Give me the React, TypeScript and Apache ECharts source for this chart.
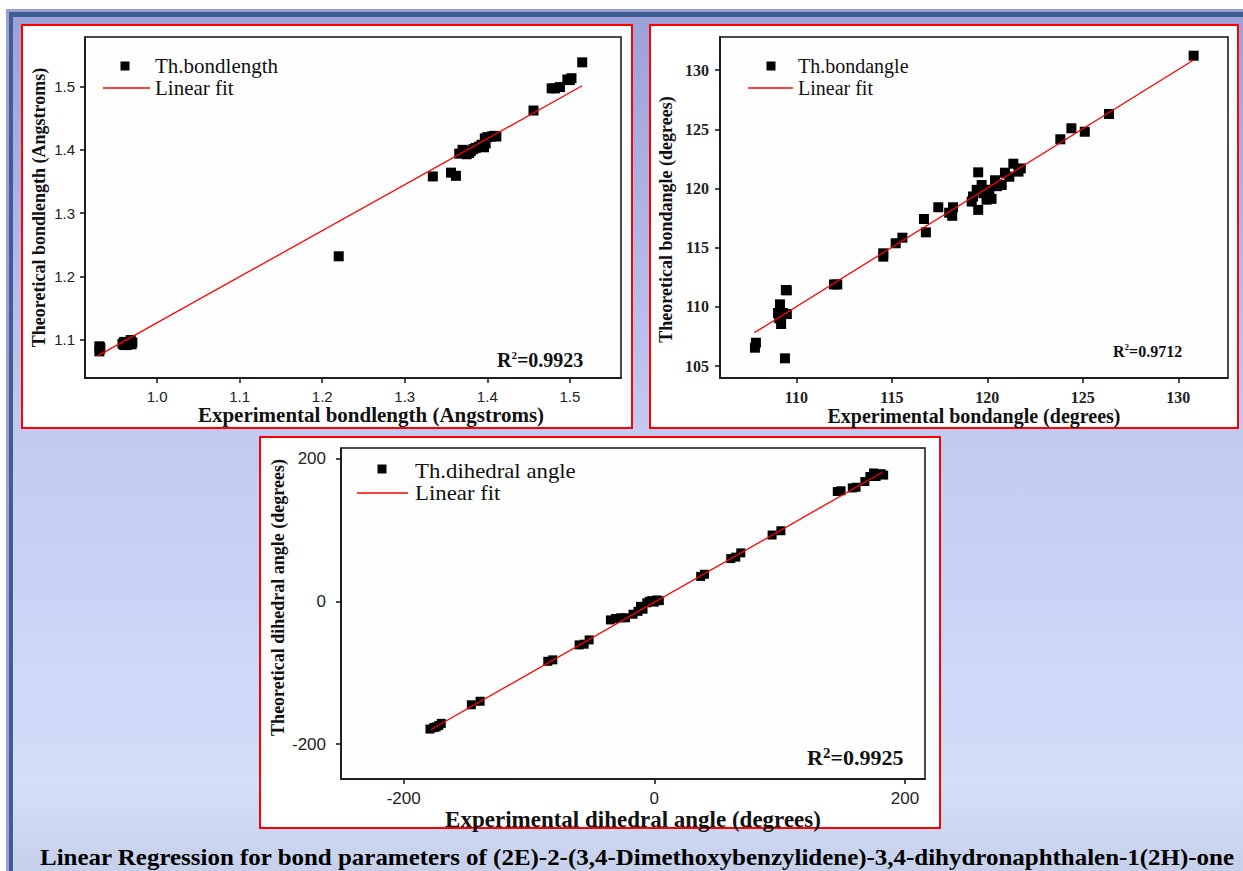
import React, { useEffect, useRef } from 'react';
import * as echarts from 'echarts';

// ---------- Panel 1: bond lengths ----------
const bondExp = [0.930, 0.931, 0.930, 0.931, 0.958, 0.960, 0.963, 0.968, 0.970, 0.969, 0.960,
  1.220, 1.334, 1.356, 1.362, 1.366, 1.370, 1.372, 1.375, 1.378, 1.380, 1.383,
  1.386, 1.390, 1.393, 1.396, 1.398, 1.397, 1.400, 1.405, 1.408, 1.411,
  1.456, 1.478, 1.482, 1.488, 1.497, 1.502, 1.500, 1.515];
const bondTheo = [1.090, 1.086, 1.082, 1.088, 1.094, 1.097, 1.092, 1.100, 1.096, 1.093, 1.092,
  1.232, 1.358, 1.364, 1.359, 1.394, 1.400, 1.397, 1.393, 1.395, 1.398, 1.401,
  1.403, 1.405, 1.408, 1.404, 1.410, 1.418, 1.420, 1.421, 1.422, 1.421,
  1.462, 1.497, 1.497, 1.499, 1.511, 1.513, 1.510, 1.538];
const bondFitX = [0.928, 1.515];
const bondFitY = [1.075, 1.501];
const bondXTicks = [1.0, 1.1, 1.2, 1.3, 1.4, 1.5];
const bondYTicks = [1.1, 1.2, 1.3, 1.4, 1.5];

// ---------- Panel 2: bond angles ----------
const angExp = [107.83, 107.88, 109.40, 109.45, 109.50, 109.14, 109.04, 109.30, 109.50, 109.20, 109.10,
  111.97, 112.14, 114.55, 114.55, 115.20, 115.55, 116.68, 116.78, 117.43, 118.00, 118.16, 118.20,
  119.52, 119.52, 119.25, 119.18, 119.44, 119.70, 119.79, 119.96, 120.22, 120.40, 120.75, 120.92,
  121.15, 121.36, 120.10, 120.50, 121.63, 121.75,
  123.82, 124.40, 125.10, 126.37, 130.80];
const angTheo = [106.56, 106.98, 105.66, 111.43, 111.40, 110.22, 109.49, 109.49, 109.40, 108.56, 109.04,
  111.90, 111.90, 114.25, 114.53, 115.38, 115.85, 117.43, 116.30, 118.42, 117.96, 117.70, 118.42,
  121.37, 118.20, 119.33, 118.90, 119.89, 120.30, 119.60, 119.06, 119.13, 120.70, 120.30, 121.34,
  121.00, 122.10, 119.90, 120.20, 121.43, 121.70,
  124.16, 125.09, 124.80, 126.30, 131.22];
const angFitX = [107.8, 130.8];
const angFitY = [107.83, 130.86];
const angXTicks = [110, 115, 120, 125, 130];
const angYTicks = [105, 110, 115, 120, 125, 130];

// ---------- Panel 3: dihedral angles ----------
const dihExp = [-179, -176, -174, -172, -170, -146, -139, -85, -81, -60, -56, -52,
  -35, -31, -27, -23, -17, -13, -11, -9, -6, -4, -2, 0, 2, 4,
  37, 40, 61, 65, 69, 94, 101, 146, 149, 158, 161, 168, 172, 175, 178, 181, 183, 177];
const dihTheo = [-179, -177, -176, -174, -171, -145, -140, -84, -82, -61, -60, -54,
  -26, -24, -23, -23, -18, -14, -7, -11, -2, 0, 1, -1, 2, 1,
  35, 38, 60, 62, 68, 93, 99, 154, 155, 159, 160, 168, 175, 180, 178, 179, 177, 175];
const dihFitX = [-178.5, 182];
const dihFitY = [-180, 181];
const dihXTicks = [-200, 0, 200];
const dihYTicks = [-200, 0, 200];

const TITLE = 'Linear Regression for bond parameters of (2E)-2-(3,4-Dimethoxybenzylidene)-3,4-dihydronaphthalen-1(2H)-one';

const SERIF = '"Liberation Serif", "Times New Roman", serif';
const SANS = '"Liberation Sans", Arial, sans-serif';
const INK = '#111';

function pairs(xs: number[], ys: number[]) {
  return xs.map((x, i) => [x, ys[i]]);
}

function axis(opts: any) {
  const { gridIndex, min, max, ticks, fmt, name, nameGap, nameSize, namePad, labelFont, labelSize, labelWeight, margin } = opts;
  return {
    type: 'value',
    gridIndex,
    min,
    max,
    name,
    nameLocation: 'middle',
    nameGap,
    nameTextStyle: { fontFamily: SERIF, fontWeight: 'bold', fontSize: nameSize, color: INK, padding: namePad || 0 },
    axisLine: { show: true, onZero: false, lineStyle: { color: INK, width: 1.5 } },
    axisTick: { show: true, inside: false, length: 5, customValues: ticks, lineStyle: { color: INK, width: 1.5 } },
    axisLabel: {
      customValues: ticks,
      formatter: fmt,
      fontFamily: labelFont,
      fontSize: labelSize,
      fontWeight: labelWeight,
      color: '#222',
      margin,
    },
    splitLine: { show: false },
  };
}

function r2Text(x: number, y: number, value: string, size: number, supSize: number) {
  return {
    type: 'text',
    x,
    y,
    z: 100,
    style: {
      text: '{r|R}{s|2}{r|=' + value + '}',
      verticalAlign: 'middle',
      rich: {
        r: { fontFamily: SERIF, fontWeight: 'bold', fontSize: size, fill: INK, lineHeight: size + 2 },
        s: { fontFamily: SERIF, fontWeight: 'bold', fontSize: supSize, fill: INK, verticalAlign: 'top', lineHeight: supSize },
      },
    },
  };
}

function legendG(sqX: number, sqY: number, x1: number, x2: number, lineY: number, textX: number, textY1: number, name: string, size: number, sx: number) {
  return [
    { type: 'rect', z: 100, shape: { x: sqX - 4.5, y: sqY - 4.5, width: 9, height: 9 }, style: { fill: '#000' } },
    { type: 'line', z: 100, shape: { x1, y1: lineY, x2, y2: lineY }, style: { stroke: '#ff0000', lineWidth: 1.3 } },
    { type: 'text', z: 100, x: textX, y: textY1, scaleX: sx, style: { text: name, fontFamily: SERIF, fontSize: size, fill: INK, verticalAlign: 'middle' } },
    { type: 'text', z: 100, x: textX, y: lineY, scaleX: sx, style: { text: 'Linear fit', fontFamily: SERIF, fontSize: size, fill: INK, verticalAlign: 'middle' } },
  ];
}

export default function App() {
  const ref = useRef<HTMLDivElement>(null);
  useEffect(() => {
    if (!ref.current) return;
    const chart = echarts.init(ref.current, null, { renderer: 'svg' });
    const f1 = (v: number) => v.toFixed(1);
    const f0 = (v: number) => String(Math.round(v));
    const gridStyle = { show: true, backgroundColor: '#fefefe', borderColor: INK, borderWidth: 1.5 };
    const scatterStyle = { color: '#000', opacity: 1 };

    const option: any = {
      animation: false,
      graphic: [
        { type: 'rect', z: -20, shape: { x: 6, y: 9, width: 1237, height: 862 }, style: { fill: '#9a9fd6' } },
        {
          type: 'rect', z: -19, shape: { x: 13, y: 17, width: 1230, height: 854 },
          style: {
            fill: {
              type: 'linear', x: 0, y: 0, x2: 0, y2: 1,
              colorStops: [
                { offset: 0, color: '#9ca2d8' },
                { offset: 0.5, color: '#c3cbf2' },
                { offset: 0.9, color: '#d3defa' },
                { offset: 1, color: '#c6d0ea' },
              ],
            },
          },
        },
        { type: 'rect', z: -18, shape: { x: 9, y: 12, width: 1234, height: 5 }, style: { fill: '#3d5f91' } },
        { type: 'rect', z: -18, shape: { x: 9, y: 12, width: 4, height: 859 }, style: { fill: '#3d5f91' } },
        { type: 'rect', z: -10, shape: { x: 22, y: 25, width: 610, height: 403 }, style: { fill: '#ffffff', stroke: '#ff0000', lineWidth: 2 } },
        { type: 'rect', z: -10, shape: { x: 650, y: 25, width: 588, height: 403 }, style: { fill: '#ffffff', stroke: '#ff0000', lineWidth: 2 } },
        { type: 'rect', z: -10, shape: { x: 260, y: 437, width: 680, height: 391 }, style: { fill: '#ffffff', stroke: '#ff0000', lineWidth: 2 } },
        ...legendG(125, 66, 103, 150, 88, 155, 66, 'Th.bondlength', 20, 1.05),
        ...legendG(771, 66, 748, 793, 88, 798, 66, 'Th.bondangle', 20, 1.0),
        ...legendG(382, 469, 357, 408, 493, 415, 471, 'Th.dihedral angle', 20, 1.14),
        r2Text(497, 360, '0.9923', 20, 11),
        r2Text(1113, 351, '0.9712', 16, 9),
        r2Text(807, 757, '0.9925', 22, 15),
        {
          type: 'text', x: 40, y: 857, z: 100, scaleX: 1.04,
          style: { text: TITLE, fontFamily: SERIF, fontWeight: 'bold', fontSize: 24, fill: '#000', verticalAlign: 'middle' },
        },
      ],
      grid: [
        { left: 85, top: 37, width: 536, height: 341, ...gridStyle },
        { left: 720, top: 37, width: 508, height: 341, ...gridStyle },
        { left: 341, top: 448, width: 584, height: 331, ...gridStyle },
      ],
      xAxis: [
        axis({ gridIndex: 0, min: 0.9126, max: 1.562, ticks: bondXTicks, fmt: f1, name: 'Experimental bondlength (Angstroms)', nameGap: 25, nameSize: 21, namePad: [0, 0, 0, 36], labelFont: SANS, labelSize: 15, labelWeight: 'normal', margin: 11 }),
        axis({ gridIndex: 1, min: 106.0, max: 132.6, ticks: angXTicks, fmt: f0, name: 'Experimental bondangle (degrees)', nameGap: 27, nameSize: 20, labelFont: SERIF, labelSize: 16, labelWeight: 'bold', margin: 11 }),
        axis({ gridIndex: 2, min: -250, max: 216, ticks: dihXTicks, fmt: f0, name: 'Experimental dihedral angle (degrees)', nameGap: 25, nameSize: 23, labelFont: SANS, labelSize: 17, labelWeight: 'normal', margin: 11 }),
      ],
      yAxis: [
        axis({ gridIndex: 0, min: 1.04, max: 1.578, ticks: bondYTicks, fmt: f1, name: 'Theoretical bondlength (Angstroms)', nameGap: 37, nameSize: 18, labelFont: SANS, labelSize: 15, labelWeight: 'normal', margin: 10 }),
        axis({ gridIndex: 1, min: 104.0, max: 132.8, ticks: angYTicks, fmt: f0, name: 'Theoretical bondangle (degrees)', nameGap: 45, nameSize: 18, namePad: [0, 24, 0, 0], labelFont: SERIF, labelSize: 16, labelWeight: 'bold', margin: 11 }),
        axis({ gridIndex: 2, min: -249, max: 215, ticks: dihYTicks, fmt: f0, name: 'Theoretical dihedral angle (degrees)', nameGap: 54, nameSize: 18, namePad: [0, 0, 0, 32], labelFont: SANS, labelSize: 17, labelWeight: 'normal', margin: 15 }),
      ],
      series: [
        { type: 'scatter', name: 'Th.bondlength', xAxisIndex: 0, yAxisIndex: 0, symbol: 'rect', symbolSize: 10, itemStyle: scatterStyle, data: pairs(bondExp, bondTheo), z: 2 },
        { type: 'line', name: 'Linear fit', xAxisIndex: 0, yAxisIndex: 0, symbol: 'none', lineStyle: { color: '#ff0000', width: 1.3 }, itemStyle: { color: '#ff0000' }, data: pairs(bondFitX, bondFitY), z: 3 },
        { type: 'scatter', name: 'Th.bondangle', xAxisIndex: 1, yAxisIndex: 1, symbol: 'rect', symbolSize: 10, itemStyle: scatterStyle, data: pairs(angExp, angTheo), z: 2 },
        { type: 'line', name: 'Linear fit', xAxisIndex: 1, yAxisIndex: 1, symbol: 'none', lineStyle: { color: '#ff0000', width: 1.3 }, itemStyle: { color: '#ff0000' }, data: pairs(angFitX, angFitY), z: 3 },
        { type: 'scatter', name: 'Th.dihedral angle', xAxisIndex: 2, yAxisIndex: 2, symbol: 'rect', symbolSize: 9, itemStyle: scatterStyle, data: pairs(dihExp, dihTheo), z: 2 },
        { type: 'line', name: 'Linear fit', xAxisIndex: 2, yAxisIndex: 2, symbol: 'none', lineStyle: { color: '#ff0000', width: 1.3 }, itemStyle: { color: '#ff0000' }, data: pairs(dihFitX, dihFitY), z: 3 },
      ],
    };
    chart.setOption(option);
    return () => chart.dispose();
  }, []);
  return (
    <div
      ref={ref}
      style={{ position: 'absolute', left: 0, top: 0, width: 1243, height: 871, background: '#ffffff' }}
    />
  );
}
